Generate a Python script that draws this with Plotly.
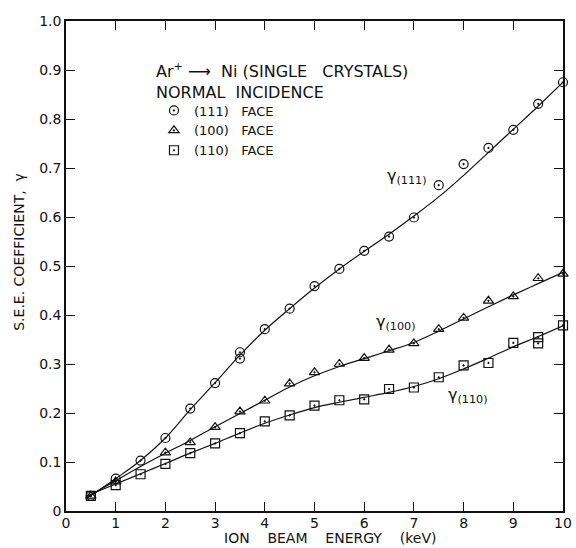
import plotly.graph_objects as go

# ---- data ----
energy = [0.5, 1, 1.5, 2, 2.5, 3, 3.5, 3.5, 4, 4.5, 5, 5.5, 6, 6.5, 7, 7.5, 8, 8.5, 9, 9.5, 10]
gamma_111 = [0.031, 0.066, 0.103, 0.149, 0.209, 0.261, 0.324, 0.311, 0.371, 0.413, 0.459, 0.494,
             0.531, 0.560, 0.599, 0.665, 0.708, 0.741, 0.778, 0.831, 0.875]

energy_100 = [0.5, 1, 2, 2.5, 3, 3.5, 4, 4.5, 5, 5.5, 6, 6.5, 7, 7.5, 8, 8.5, 9, 9.5, 10]
gamma_100 = [0.031, 0.060, 0.119, 0.140, 0.171, 0.203, 0.225, 0.260, 0.283, 0.300, 0.312, 0.329,
             0.342, 0.371, 0.394, 0.429, 0.438, 0.475, 0.484]

energy_110 = [0.5, 1, 1.5, 2, 2.5, 3, 3.5, 4, 4.5, 5, 5.5, 6, 6.5, 7, 7.5, 8, 8.5, 9, 9.5, 9.5, 10]
gamma_110 = [0.031, 0.053, 0.075, 0.096, 0.118, 0.138, 0.159, 0.183, 0.195, 0.215, 0.226, 0.228,
             0.249, 0.252, 0.273, 0.297, 0.302, 0.343, 0.355, 0.342, 0.379]

# fitted curves
fit_x = [0.4, 1, 1.5, 2, 2.5, 3, 3.5, 4, 4.5, 5, 5.5, 6, 6.5, 7, 7.5, 8, 8.5, 9, 9.5, 10]
fit_111 = [0.025, 0.066, 0.103, 0.149, 0.207, 0.262, 0.318, 0.369, 0.413, 0.455, 0.494, 0.530,
           0.565, 0.602, 0.641, 0.685, 0.732, 0.779, 0.826, 0.875]
fit_100 = [0.027, 0.062, 0.091, 0.118, 0.144, 0.172, 0.199, 0.226, 0.253, 0.276, 0.295, 0.311,
           0.327, 0.344, 0.367, 0.392, 0.417, 0.441, 0.464, 0.487]
fit_110 = [0.030, 0.055, 0.076, 0.097, 0.118, 0.138, 0.159, 0.179, 0.196, 0.211, 0.222, 0.232,
           0.242, 0.254, 0.270, 0.290, 0.312, 0.335, 0.356, 0.378]

x_ticks = [0, 1, 2, 3, 4, 5, 6, 7, 8, 9, 10]
y_ticks = [0, 0.1, 0.2, 0.3, 0.4, 0.5, 0.6, 0.7, 0.8, 0.9, 1.0]
y_tick_labels = ["0", "0.1", "0.2", "0.3", "0.4", "0.5", "0.6", "0.7", "0.8", "0.9", "1.0"]

FONT = "DejaVu Sans"
BLACK = "#111111"
NB = "\u00a0"

fig = go.Figure()

for fy in (fit_111, fit_100, fit_110):
    fig.add_trace(go.Scatter(x=fit_x, y=fy, mode="lines", line=dict(color=BLACK, width=1.2, shape="spline"),
                             showlegend=False, hoverinfo="skip"))

series = [
    (energy, gamma_111, "circle-open-dot", "(111)" + NB * 3 + "FACE"),
    (energy_100, gamma_100, "triangle-up-open-dot", "(100)" + NB * 3 + "FACE"),
    (energy_110, gamma_110, "square-open-dot", "(110)" + NB * 3 + "FACE"),
]
for ex, gy, sym, name in series:
    fig.add_trace(go.Scatter(x=ex, y=gy, mode="markers", name=name,
                             marker=dict(symbol=sym, size=9, color=BLACK, line=dict(width=1.2, color=BLACK)),
                             cliponaxis=False))

axis_common = dict(showline=True, linecolor=BLACK, linewidth=1.5, mirror="ticks", ticks="inside",
                   ticklen=9, tickwidth=1.3, tickcolor=BLACK, showgrid=False, zeroline=False,
                   automargin=False, tickfont=dict(family=FONT, size=14, color=BLACK))

fig.update_layout(
    width=576, height=548,
    margin=dict(l=66, r=13, t=21, b=37),
    paper_bgcolor="white", plot_bgcolor="white",
    font=dict(family=FONT, color=BLACK),
    xaxis=dict(range=[0, 10], tickvals=x_ticks, ticktext=[str(v) for v in x_ticks],
               ticklabelstandoff=-2, **axis_common),
    yaxis=dict(range=[0, 1.0], tickvals=y_ticks, ticktext=y_tick_labels, **axis_common),
    legend=dict(x=0.177, y=0.848, xanchor="left", yanchor="top", bgcolor="rgba(0,0,0,0)",
                font=dict(family=FONT, size=13, color=BLACK), itemwidth=30, tracegroupgap=0),
    showlegend=True,
)

# axis titles
sep = " " + NB * 3
fig.add_annotation(xref="paper", yref="paper", x=0.531, y=0, yshift=-37, xanchor="center", yanchor="bottom",
                   text=sep.join(["ION", "BEAM", "ENERGY", "(keV)"]), showarrow=False,
                   font=dict(family=FONT, size=14, color=BLACK))
fig.add_annotation(xref="paper", yref="paper", x=0, xshift=-47, y=0.529, xanchor="center", yanchor="middle",
                   text="S.E.E. COEFFICIENT," + NB + " γ", textangle=-90, showarrow=False,
                   font=dict(family=FONT, size=14, color=BLACK))

# legend header lines
fig.add_annotation(xref="paper", yref="paper", x=0.178, y=0.898, xanchor="left", yanchor="middle",
                   text="Ar<sup>+</sup>" + NB + "⟶" + NB + " Ni" + NB + "(SINGLE" + NB * 2 + " CRYSTALS)",
                   showarrow=False, font=dict(family=FONT, size=16, color=BLACK))
fig.add_annotation(xref="paper", yref="paper", x=0.178, y=0.855, xanchor="left", yanchor="middle",
                   text="NORMAL" + NB + " INCIDENCE", showarrow=False,
                   font=dict(family=FONT, size=16, color=BLACK))

labels = [("γ<sub>(111)</sub>", 6.42, 0.683), ("γ<sub>(100)</sub>", 6.2, 0.384), ("γ<sub>(110)</sub>", 7.65, 0.235)]
for txt, lx, ly in labels:
    fig.add_annotation(x=lx, y=ly, text=txt, showarrow=False, xanchor="left", yanchor="middle",
                       font=dict(family=FONT, size=16, color=BLACK))

fig.write_html("out.html")
